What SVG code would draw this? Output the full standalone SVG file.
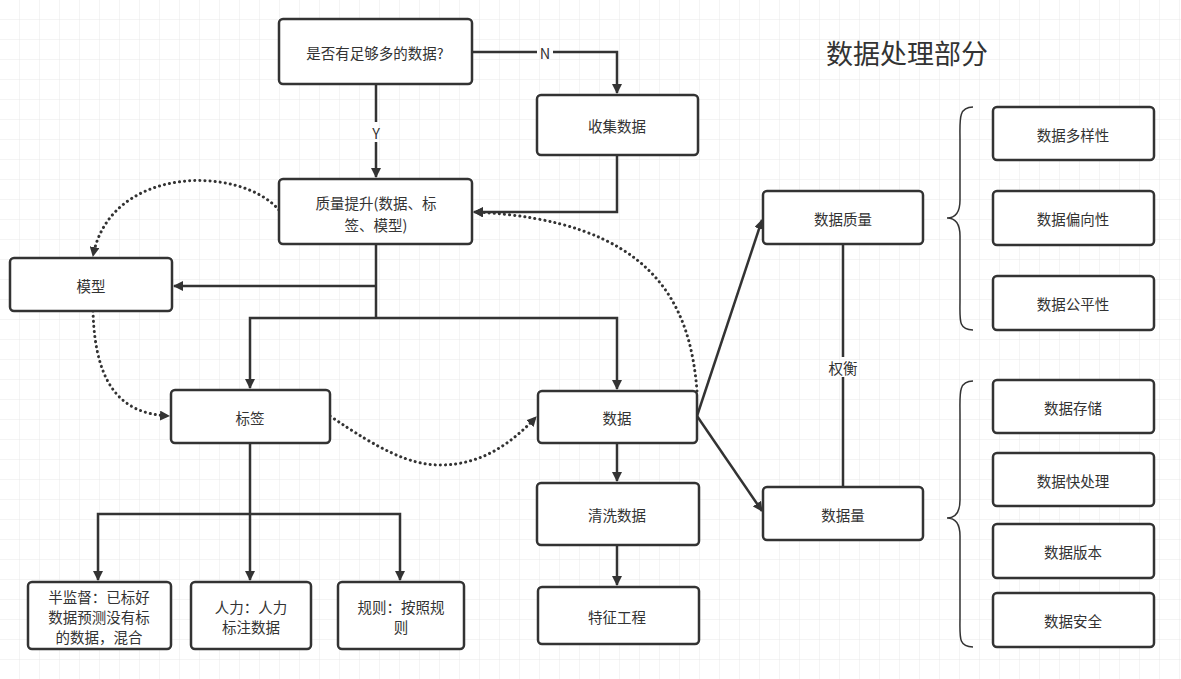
<svg xmlns="http://www.w3.org/2000/svg" width="1181" height="679" viewBox="0 0 1181 679">
<style>
.n rect{fill:#fff;stroke:#333;stroke-width:2.5}
text{font-family:"Noto Sans CJK SC","Liberation Sans",sans-serif;font-size:14.5px;fill:#333;text-anchor:middle;dominant-baseline:central}
.c path{fill:none;stroke:#333;stroke-width:2.5}
.c .d{stroke-dasharray:0.1 5;stroke-width:3;stroke-linecap:round}
</style>
<defs>
<pattern id="g" width="20" height="20" patternUnits="userSpaceOnUse"><path d="M20 0V20H0" fill="none" stroke="#e8e8e8" stroke-width="1"/></pattern>
<marker id="a" markerWidth="10" markerHeight="10" refX="9" refY="5" orient="auto" markerUnits="userSpaceOnUse" viewBox="0 0 10 10"><path d="M0 0L10 5L0 10z" fill="#333"/></marker>
</defs>
<rect width="1181" height="679" fill="#fff"/>
<rect width="1181" height="679" fill="url(#g)"/>
<g class="c">
<path d="M472 52H537M553 52H617V93" marker-end="url(#a)"/>
<path d="M376 84V122M376 142V177" marker-end="url(#a)"/>
<path d="M617 155V212H474" marker-end="url(#a)"/>
<path d="M376 244V318M376 286H174" marker-end="url(#a)"/>
<path d="M376 318H250V388" marker-end="url(#a)"/>
<path d="M376 318H617V389" marker-end="url(#a)"/>
<path d="M617 443V481" marker-end="url(#a)"/>
<path d="M617 545V585" marker-end="url(#a)"/>
<path d="M250 443V580" marker-end="url(#a)"/>
<path d="M250 514H98V580" marker-end="url(#a)"/>
<path d="M250 514H400V580" marker-end="url(#a)"/>
<path d="M697 416L762 220" marker-end="url(#a)"/>
<path d="M697 416L762 511" marker-end="url(#a)"/>
<path d="M843 244V357M843 377V487"/>
<path class="d" d="M279 210C240 165 110 165 93 256" marker-end="url(#a)"/>
<path class="d" d="M93 311C95 390 125 414 169 416" marker-end="url(#a)"/>
<path class="d" d="M330 416C380 450 410 465 440 465C480 465 510 445 536 417" marker-end="url(#a)"/>
<path class="d" d="M697 391C690 300 650 220 474 212" marker-end="url(#a)"/>
<path d="M973 107C958 107 960 120 960 140V200C960 213 955 218 947 218C955 218 960 223 960 236V300C960 320 958 330 973 330" style="stroke-width:1.5"/>
<path d="M973 381C958 381 960 394 960 414V500C960 513 955 518 947 518C955 518 960 523 960 536V617C960 637 958 647 973 647" style="stroke-width:1.5"/>
</g>
<text x="545" y="52">N</text>
<text x="376" y="132">Y</text>
<text x="843" y="367">权衡</text>
<text x="907" y="52" style="font-size:27px">数据处理部分</text>
<g class="n" id="n1"><rect x="279" y="19" width="193" height="65" rx="4"/><text x="375" y="52">是否有足够多的数据?</text></g>
<g class="n" id="n2"><rect x="537" y="95" width="161" height="60" rx="4"/><text x="617" y="125">收集数据</text></g>
<g class="n" id="n3"><rect x="279" y="179" width="193" height="65" rx="4"/><text x="376" y="202">质量提升(数据、标</text><text x="376" y="224">签、模型)</text></g>
<g class="n" id="n4"><rect x="10" y="258" width="162" height="53" rx="4"/><text x="91" y="285">模型</text></g>
<g class="n" id="n5"><rect x="171" y="390" width="159" height="53" rx="4"/><text x="250" y="417">标签</text></g>
<g class="n" id="n6"><rect x="538" y="391" width="159" height="52" rx="4"/><text x="617" y="417">数据</text></g>
<g class="n" id="n7"><rect x="537" y="483" width="162" height="62" rx="4"/><text x="617" y="514">清洗数据</text></g>
<g class="n" id="n8"><rect x="538" y="587" width="161" height="57" rx="4"/><text x="617" y="616">特征工程</text></g>
<g class="n" id="n9"><rect x="28" y="582" width="143" height="67" rx="4"/><text x="99" y="596">半监督：已标好</text><text x="99" y="616">数据预测没有标</text><text x="99" y="636">的数据，混合</text></g>
<g class="n" id="n10"><rect x="191" y="582" width="120" height="67" rx="4"/><text x="251" y="606">人力：人力</text><text x="251" y="626">标注数据</text></g>
<g class="n" id="n11"><rect x="338" y="582" width="126" height="67" rx="4"/><text x="401" y="606">规则：按照规</text><text x="401" y="626">则</text></g>
<g class="n" id="n12"><rect x="763" y="191" width="160" height="53" rx="4"/><text x="843" y="218">数据质量</text></g>
<g class="n" id="n13"><rect x="763" y="487" width="160" height="53" rx="4"/><text x="843" y="514">数据量</text></g>
<g class="n" id="n14"><rect x="993" y="107" width="161" height="53" rx="4"/><text x="1073" y="134">数据多样性</text></g>
<g class="n" id="n15"><rect x="993" y="191" width="161" height="54" rx="4"/><text x="1073" y="218">数据偏向性</text></g>
<g class="n" id="n16"><rect x="993" y="276" width="161" height="54" rx="4"/><text x="1073" y="303">数据公平性</text></g>
<g class="n" id="n17"><rect x="993" y="380" width="161" height="53" rx="4"/><text x="1073" y="407">数据存储</text></g>
<g class="n" id="n18"><rect x="993" y="453" width="161" height="53" rx="4"/><text x="1073" y="480">数据快处理</text></g>
<g class="n" id="n19"><rect x="993" y="524" width="161" height="54" rx="4"/><text x="1073" y="551">数据版本</text></g>
<g class="n" id="n20"><rect x="993" y="593" width="161" height="54" rx="4"/><text x="1073" y="620">数据安全</text></g>
</svg>
